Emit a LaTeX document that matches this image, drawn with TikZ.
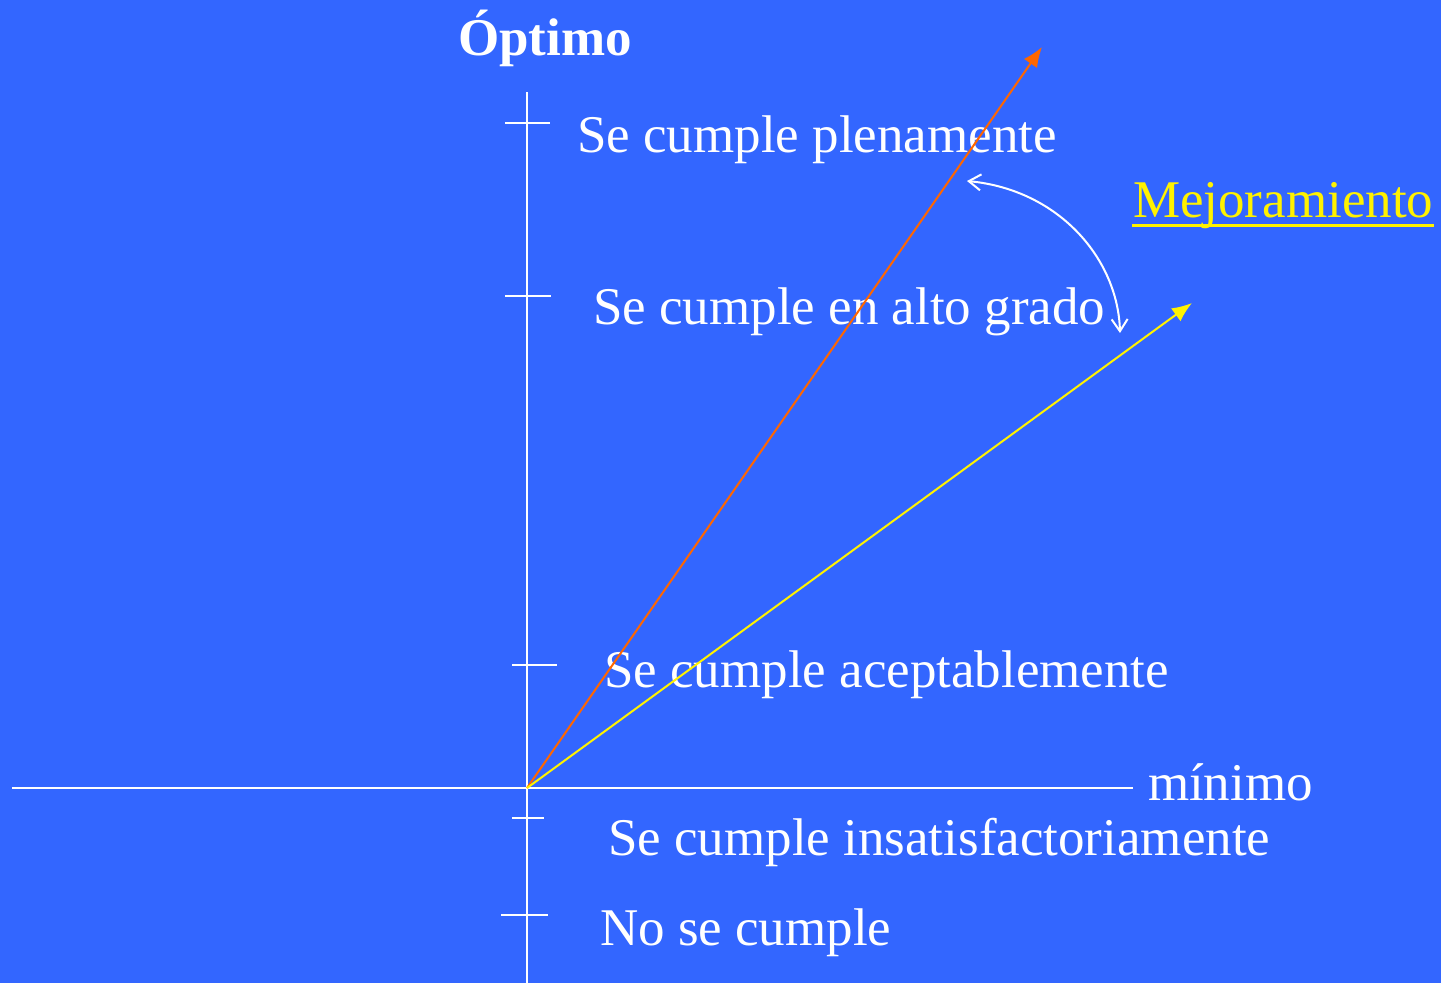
\documentclass[tikz,border=0pt]{standalone}
\usepackage{fontspec}
\setmainfont{Liberation Serif}
\usetikzlibrary{arrows.meta}
\definecolor{fondo}{RGB}{51,102,255}
\definecolor{naranja}{RGB}{255,102,0}
\begin{document}
\begin{tikzpicture}[x=0.5pt,y=-0.5pt,line width=1pt,
  nivel/.style={anchor=base west,inner sep=0pt,text=white,font=\fontsize{26.5}{30}\selectfont}]
\fill[fondo] (0,0) rectangle (1441,983);
\useasboundingbox (0,0) rectangle (1441,983);
\coordinate (O) at (527,788);
\coordinate (top) at (527,92);
\coordinate (bot) at (527,983);
\coordinate (left) at (12,788);
\coordinate (right) at (1133,788);
\draw[white] (bot) -- (top);
\draw[white] (left) -- (right);
%
\draw[white] (505,123)--(550,123);
\draw[white] (505,296)--(551,296);
\draw[white] (512,665)--(557,665);
\draw[white] (512,818)--(544,818);
\draw[white] (501,915)--(548,915);
%
\node[nivel,font=\fontsize{26.5}{30}\selectfont\bfseries] (opt) at (457,56) {Óptimo};
\node[nivel] (plena) at (576,153) {Se cumple plenamente};
\node[nivel] (alto) at (592,325) {Se cumple en alto grado};
\node[nivel] (acep) at (603,688) {Se cumple aceptablemente};
\node[nivel] (min) at (1147,800) {mínimo};
\node[nivel] (insat) at (607,855) {Se cumple insatisfactoriamente};
\node[nivel] (no) at (599,945) {No se cumple};
\node[nivel,text=yellow] (mej) at (1132,218) {Mejoramiento};
\draw[yellow,line width=1.5pt] (mej.base west)++(0,8) -- ([yshift=-4pt]mej.base east);
%
\coordinate (pn) at (1042,47);
\coordinate (pa) at (1192,303);
\draw[naranja,-{Latex[length=10pt,width=8pt]}] (O) -- (pn);
\draw[yellow,-{Latex[length=10pt,width=8pt]}] (O) -- (pa);
\coordinate (c1) at (967,181);
\coordinate (c2) at (1120,333);
\draw[white,{Straight Barb[length=6pt,width=8pt]}-{Straight Barb[length=6pt,width=8pt]}] (c1) .. controls (1060,190) and (1118,260) .. (c2);
\end{tikzpicture}
\end{document}
